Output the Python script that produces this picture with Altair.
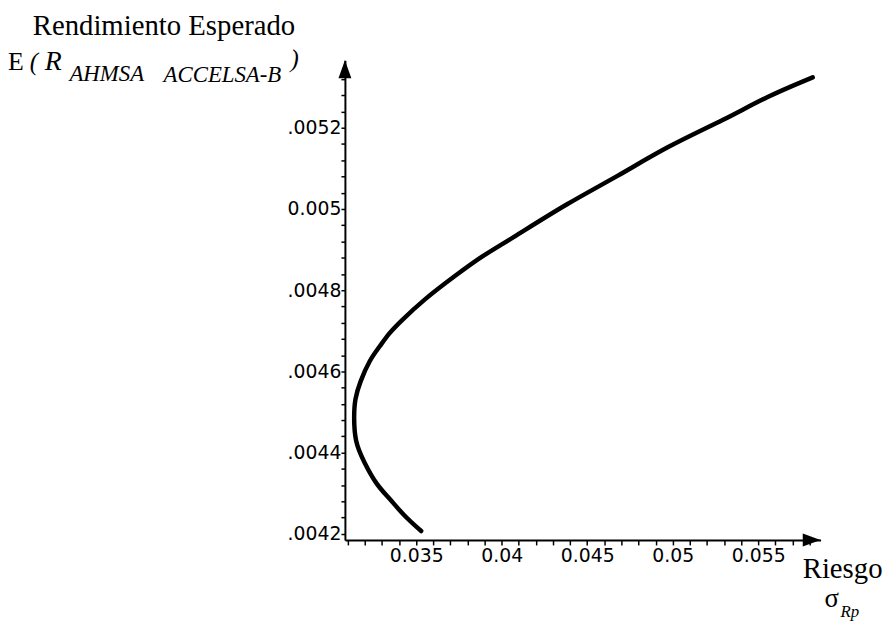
import altair as alt
import pandas as pd

# ---- data ----
sigma = [0.03529, 0.03425, 0.03343, 0.03268, 0.03193, 0.03141, 0.03135, 0.03141,
         0.03170, 0.03228, 0.03286, 0.03343, 0.03401, 0.03541, 0.03732, 0.03888,
         0.04039, 0.04387, 0.04677, 0.04967, 0.05314, 0.05546, 0.05819]
ret = [0.004207, 0.004246, 0.004288, 0.004320, 0.004378, 0.004427, 0.004490, 0.004532,
       0.004573, 0.004629, 0.004661, 0.004695, 0.004720, 0.004776, 0.004837, 0.004885,
       0.004922, 0.005015, 0.005080, 0.005154, 0.005222, 0.005276, 0.005324]

x_ticks = [0.031, 0.032, 0.033, 0.034, 0.035, 0.036, 0.037, 0.038, 0.039, 0.040,
           0.041, 0.042, 0.043, 0.044, 0.045, 0.046, 0.047, 0.048, 0.049, 0.050,
           0.051, 0.052, 0.053, 0.054, 0.055, 0.056, 0.057, 0.058]
x_major = [0.035, 0.04, 0.045, 0.05, 0.055]
x_major_labels = ["0.035", "0.04", "0.045", "0.05", "0.055"]

y_ticks = [0.00420, 0.00424, 0.00428, 0.00432, 0.00436, 0.00440, 0.00444, 0.00448,
           0.00452, 0.00456, 0.00460, 0.00464, 0.00468, 0.00472, 0.00476, 0.00480,
           0.00484, 0.00488, 0.00492, 0.00496, 0.00500, 0.00504, 0.00508, 0.00512,
           0.00516, 0.00520, 0.00524, 0.00528, 0.00532]
y_major = [0.0042, 0.0044, 0.0046, 0.0048, 0.005, 0.0052]
y_major_labels = [".0042", ".0044", ".0046", ".0048", "0.005", ".0052"]

x_domain = [0.03083, 0.05865]
y_domain = [0.004185, 0.005366]

SERIF = "Liberation Serif"
SANS = "DejaVu Sans"


def label_expr(values, labels):
    expr = "''"
    for v, l in reversed(list(zip(values, labels))):
        expr = f"abs(datum.value - {v}) < 1e-9 ? '{l}' : ({expr})"
    return expr


curve_df = pd.DataFrame({"sigma": sigma, "ret": ret, "i": list(range(len(sigma)))})

xs = alt.Scale(domain=x_domain, zero=False, nice=False)
ys = alt.Scale(domain=y_domain, zero=False, nice=False)

common_axis = dict(
    domainColor="black", domainWidth=2, tickColor="black", tickWidth=1.5,
    labelFont=SANS, labelFontSize=19, labelColor="black", grid=False,
    labelOverlap=False, labelFlush=False, labelBound=False, title=None,
    tickCount=200,
)

x_axis = alt.Axis(values=x_ticks, labelExpr=label_expr(x_major, x_major_labels),
                  tickSize=5, labelPadding=2, **common_axis)
y_axis = alt.Axis(values=y_ticks, labelExpr=label_expr(y_major, y_major_labels),
                  tickSize=4, labelPadding=0, **common_axis)

curve = alt.Chart(curve_df).mark_line(
    color="black", strokeWidth=4.5, interpolate="basis", strokeCap="round"
).encode(
    x=alt.X("sigma:Q", scale=xs, axis=x_axis),
    y=alt.Y("ret:Q", scale=ys, axis=y_axis),
    order="i:Q",
)

arrow_y = alt.Chart(pd.DataFrame({"sigma": [x_domain[0]], "ret": [y_domain[1]]})).mark_point(
    shape="M0,0L0.65,1.8L-0.65,1.8Z", size=400, filled=True, color="black", opacity=1
).encode(x=alt.X("sigma:Q", scale=xs), y=alt.Y("ret:Q", scale=ys))

arrow_x = alt.Chart(pd.DataFrame({"sigma": [x_domain[1]], "ret": [y_domain[0]]})).mark_point(
    shape="M0,0L-1.8,-0.65L-1.8,0.65Z", size=400, filled=True, color="black", opacity=1
).encode(x=alt.X("sigma:Q", scale=xs), y=alt.Y("ret:Q", scale=ys))


def txt(t, x, y, size, style="normal", font=SERIF):
    return alt.Chart(pd.DataFrame({"t": [t]})).mark_text(
        align="left", baseline="alphabetic", font=font, fontSize=size,
        fontStyle=style, color="black"
    ).encode(text="t:N", x=alt.value(x), y=alt.value(y))


texts = [
    txt("Rendimiento Esperado", -315, -26, 29),
    txt("E", -340, 10, 26),
    txt("(", -318, 10, 25, "italic"),
    txt("R", -303, 10, 28, "italic"),
    txt("AHMSA", -278, 21, 23, "italic"),
    txt("ACCELSA-B", -183, 22, 23, "italic"),
    txt(")", -55, 7, 25, "italic"),
    txt("Riesgo", 462, 522, 29),
    txt("σ", 484, 552, 27),
    txt("Rp", 500, 562, 17, "italic"),
]

chart = alt.layer(curve, arrow_y, arrow_x, *texts).properties(
    width=480, height=484,
    padding={"left": 340, "top": 50, "right": 63, "bottom": 83},
    autosize=alt.AutoSizeParams(type="none"),
    background="white",
).configure_view(stroke=None)

chart.save("out.html", embed_options={"renderer": "svg", "actions": False})
